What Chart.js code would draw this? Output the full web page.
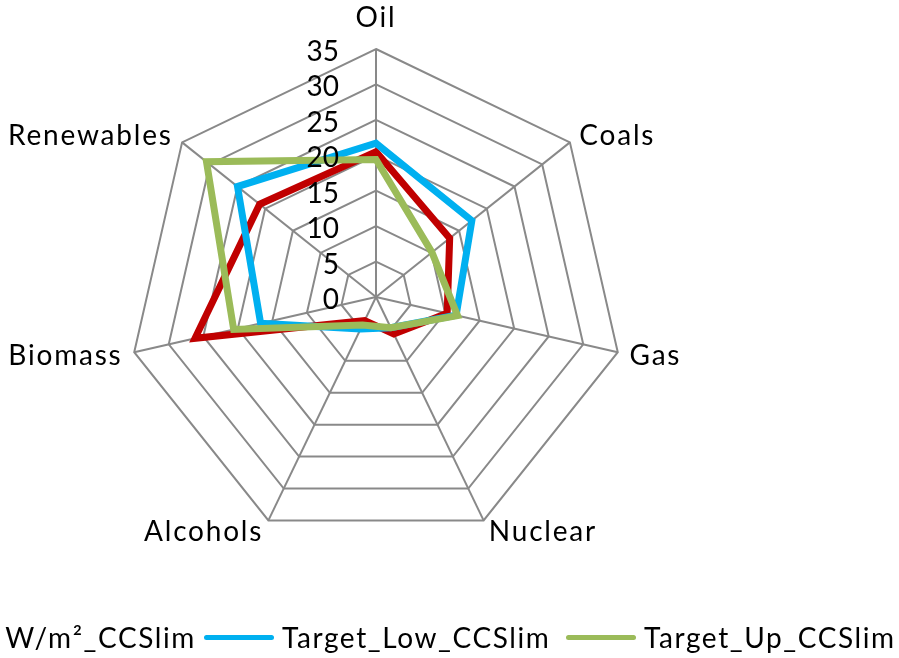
<!DOCTYPE html>
<html>
<head>
<meta charset="utf-8">
<script src="https://cdn.jsdelivr.net/npm/chart.js@4.4.1/dist/chart.umd.min.js"></script>
<style>
    html, body { margin: 0; padding: 0; background: #fff; }
    body { width: 899px; height: 658px; overflow: hidden; position: relative; font-family: Lato, sans-serif; }
    #radarChart { position: absolute; left: 0; top: 0; }
    .legend-item { position: absolute; top: 618px; height: 38px; display: flex; align-items: center; white-space: nowrap; font-size: 28px; letter-spacing: 1.6px; color: #000; }
    .legend-line { display: inline-block; width: 70px; height: 5px; border-radius: 3px; margin-right: 8px; }
</style>
</head>
<body>
<canvas id="radarChart" width="899" height="658"></canvas>
<div id="legend"></div>
<script>
var categories = ["Oil", "Coals", "Gas", "Nuclear", "Alcohols", "Biomass", "Renewables"];
var seriesNames = ["4.5 W/m²_CCSlim", "Target_Low_CCSlim", "Target_Up_CCSlim"];
var seriesColors = ["#C00000", "#00B0F0", "#9BBB59"];
var ccsLimValues = [20.5, 13.3, 10.3, 5.8, 3.7, 26.2, 21.0];
var targetLowValues = [21.7, 17.3, 11.6, 4.8, 5.0, 16.7, 25.0];
var targetUpValues = [19.4, 10.1, 11.8, 4.8, 4.4, 20.6, 30.6];
var tickValues = [0, 5, 10, 15, 20, 25, 30, 35];

var legendLefts = [null, 204, 566]; // first item is anchored by its right edge

// tick numbers sit left of the Oil axis and category names outside the web, like the excel chart
var excelLabels = {
    id: 'excelLabels',
    afterDatasetsDraw: function(chart) {
        var scale = chart.scales.r;
        var ctx = chart.ctx;
        ctx.save();
        ctx.fillStyle = '#000';
        ctx.font = '28px Lato';
        ctx.textBaseline = 'alphabetic';
        ctx.textAlign = 'right';
        scale.ticks.forEach(function(tick) {
            var d = scale.getDistanceFromCenterForValue(tick.value);
            ctx.fillText(tick.label, scale.xCenter - 37, scale.yCenter - d + 12);
        });
        ctx.letterSpacing = '1.8px';
        categories.forEach(function(name, i) {
            var pos = scale.getPointPosition(i, scale.drawingArea + 12);
            var dx = pos.x - scale.xCenter;
            var y = pos.y + 10;
            if (Math.abs(dx) < 1) {
                ctx.textAlign = 'center';
                if (pos.y < scale.yCenter) y -= 20;
            } else {
                ctx.textAlign = dx > 0 ? 'left' : 'right';
            }
            ctx.fillText(name, pos.x, y);
        });
        ctx.restore();
    }
};

function renderLegend() {
    var html = "";
    for (var i = 0; i < seriesNames.length; i++) {
        var pos = legendLefts[i] === null ? "right:" + (899 - 196) + "px" : "left:" + legendLefts[i] + "px";
        html += "<div class='legend-item' style='" + pos + "'>" +
            "<span class='legend-line' style='background:" + seriesColors[i] + "'></span>" +
            "<span>" + seriesNames[i] + "</span></div>";
    }
    document.getElementById('legend').innerHTML = html;
}

function makeDataset(index, values, order) {
    return {
        label: seriesNames[index],
        data: values,
        borderColor: seriesColors[index],
        backgroundColor: seriesColors[index],
        borderWidth: 7,
        borderJoinStyle: 'miter',
        fill: false,
        pointRadius: 0,
        pointHoverRadius: 0,
        order: order
    };
}

function createChart() {
    var ctx = document.getElementById('radarChart');
    new Chart(ctx, {
        type: 'radar',
        data: {
            labels: categories,
            datasets: [
                makeDataset(0, ccsLimValues, 3),
                makeDataset(1, targetLowValues, 2),
                makeDataset(2, targetUpValues, 1)
            ]
        },
        options: {
            responsive: false,
            animation: false,
            layout: { padding: { top: 49, bottom: 113, left: 0, right: 147 } },
            plugins: {
                legend: { display: false },
                tooltip: { enabled: false }
            },
            scales: {
                r: {
                    min: tickValues[0],
                    max: tickValues[tickValues.length - 1],
                    ticks: { stepSize: 5, display: false },
                    pointLabels: { display: false },
                    grid: { color: '#898989', lineWidth: 2, circular: false },
                    angleLines: { color: '#898989', lineWidth: 2 }
                }
            }
        },
        plugins: [excelLabels]
    });
}

renderLegend();
createChart();
</script>
</body>
</html>
